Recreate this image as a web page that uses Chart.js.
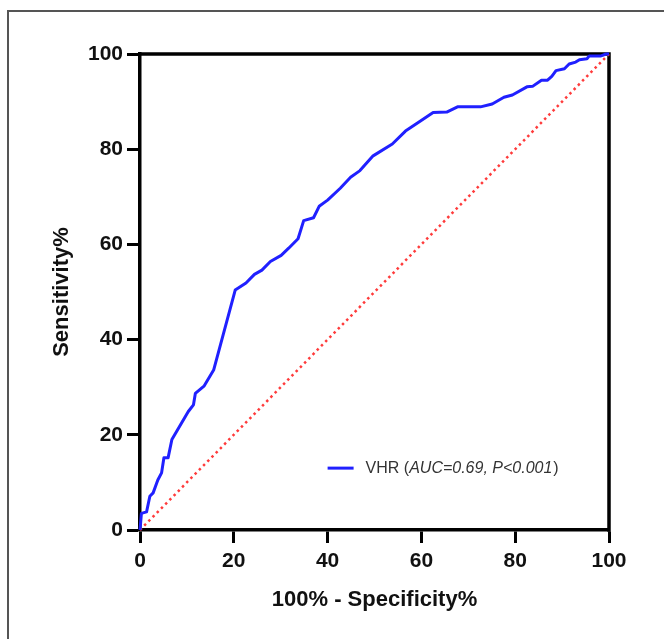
<!DOCTYPE html>
<html>
<head>
<meta charset="utf-8">
<script src="https://cdn.jsdelivr.net/npm/chart.js@4"></script>
<style>
  html, body { margin: 0; padding: 0; background: #fff; }
  #wrap { position: relative; width: 664px; height: 639px; overflow: hidden; }
  #frame { position: absolute; left: 7px; top: 10px; width: 700px; height: 700px;
           border-left: 2px solid #555; border-top: 2px solid #555; }
  #rocChart { position: absolute; left: 0; top: 0; }
</style>
</head>
<body>
<div id="wrap">
  <div id="frame"></div>
  <canvas id="rocChart" width="664" height="639"></canvas>
</div>
<script>
// ROC curve (100% - specificity, sensitivity)
let fprValues = [0, 0.3, 1.4, 2.1, 2.8, 3.8, 4.6, 5.1, 6.0, 6.8, 7.8, 10.3, 11.4, 11.8, 13.7, 15.7,
    20.3, 22.6, 24.4, 26, 27.8, 30.1, 31.7, 33.7, 34.9, 37, 38.2, 40, 42.7, 44.9, 46.9, 49.7,
    53.8, 56.6, 59.8, 62.5, 65.4, 67.7, 72.6, 75.1, 77.6, 79.4, 82.5, 83.7, 85.6, 86.9, 87.8,
    88.7, 90.5, 91.5, 92.9, 93.7, 95.3, 95.8, 98.3, 99.4, 100];
let tprValues = [0, 3.5, 3.8, 7.1, 7.8, 10.5, 12, 15.2, 15.2, 19, 20.7, 24.9, 26.3, 28.7, 30.3, 33.6,
    50.4, 51.9, 53.7, 54.6, 56.4, 57.7, 59.2, 61.2, 65, 65.6, 68, 69.3, 71.8, 74.1, 75.5, 78.6,
    81.1, 83.8, 85.9, 87.7, 87.8, 88.9, 88.9, 89.5, 90.9, 91.4, 93.1, 93.2, 94.5, 94.5, 95.3,
    96.5, 96.9, 97.9, 98.3, 98.8, 99, 99.6, 99.6, 100, 100];
let refX = [0, 100];
let refY = [0, 100];
let tickValues = [0, 20, 40, 60, 80, 100];

let fontFamily = "'Liberation Sans', Arial, Helvetica, sans-serif";

// box on top/right of the plot area
let boxPlugin = {
    id: 'plotBox',
    beforeDatasetsDraw(chart) {
        let a = chart.chartArea;
        let ctx = chart.ctx;
        ctx.save();
        ctx.strokeStyle = '#000';
        ctx.lineWidth = 3.5;
        ctx.lineCap = 'square';
        ctx.beginPath();
        ctx.moveTo(a.left, a.top);
        ctx.lineTo(a.right, a.top);
        ctx.lineTo(a.right, a.bottom);
        ctx.stroke();
        ctx.restore();
    }
};

// legend with italic stats
let legendPlugin = {
    id: 'rocLegend',
    afterDraw(chart) {
        let ctx = chart.ctx;
        let x0 = chart.scales.x.getPixelForValue(40);
        let y0 = chart.scales.y.getPixelForValue(13);
        ctx.save();
        ctx.strokeStyle = '#2020ff';
        ctx.lineWidth = 3;
        ctx.beginPath();
        ctx.moveTo(x0, y0);
        ctx.lineTo(x0 + 26, y0);
        ctx.stroke();
        ctx.fillStyle = '#333';
        ctx.textBaseline = 'middle';
        let parts = [
            ['VHR (', 'normal'],
            ['AUC=0.69, P<0.001', 'italic'],
            [')', 'normal']
        ];
        let x = x0 + 38;
        parts.forEach(function (p) {
            ctx.font = p[1] + ' 16px ' + fontFamily;
            ctx.fillText(p[0], x, y0);
            x += ctx.measureText(p[0]).width + (p[1] === 'italic' ? 1 : 0);
        });
        ctx.restore();
    }
};

let ctxRoc = document.getElementById('rocChart').getContext('2d');

let rocChart = new Chart(ctxRoc, {
    type: 'scatter',
    data: {
        datasets: [{
            label: 'VHR',
            data: fprValues.map((v, i) => ({x: v, y: tprValues[i]})),
            showLine: true,
            borderColor: '#2020ff',
            borderWidth: 3,
            borderJoinStyle: 'round',
            pointRadius: 0,
            clip: false
        }, {
            label: 'Reference',
            data: refX.map((v, i) => ({x: v, y: refY[i]})),
            showLine: true,
            borderColor: '#ff3b3b',
            borderWidth: 2.5,
            borderDash: [2.5, 3.5],
            pointRadius: 0,
            clip: false
        }]
    },
    options: {
        responsive: false,
        animation: false,
        layout: {
            padding: {left: 0, top: 54, right: 55, bottom: 0}
        },
        plugins: {
            legend: {display: false},
            tooltip: {enabled: false}
        },
        scales: {
            x: {
                type: 'linear',
                min: 0,
                max: 100,
                afterBuildTicks: function (scale) {
                    scale.ticks = tickValues.map(v => ({value: v}));
                },
                afterFit: function (scale) {
                    scale.height = 109;
                },
                border: {display: true, color: '#000', width: 3.5},
                grid: {
                    drawOnChartArea: false,
                    drawTicks: true,
                    tickLength: 13,
                    tickWidth: 3,
                    tickColor: '#000'
                },
                ticks: {
                    color: '#111',
                    padding: 6,
                    maxRotation: 0,
                    font: {family: fontFamily, size: 21, weight: 'bold'}
                },
                title: {
                    display: true,
                    text: '100% - Specificity%',
                    color: '#111',
                    padding: {top: 0, bottom: 26},
                    font: {family: fontFamily, size: 22, weight: 'bold'}
                }
            },
            y: {
                type: 'linear',
                min: 0,
                max: 100,
                afterBuildTicks: function (scale) {
                    scale.ticks = tickValues.map(v => ({value: v}));
                },
                afterFit: function (scale) {
                    scale.width = 140;
                },
                border: {display: true, color: '#000', width: 3.5},
                grid: {
                    drawOnChartArea: false,
                    drawTicks: true,
                    tickLength: 13,
                    tickWidth: 3,
                    tickColor: '#000'
                },
                ticks: {
                    color: '#111',
                    padding: 4,
                    font: {family: fontFamily, size: 21, weight: 'bold'}
                },
                title: {
                    display: true,
                    text: 'Sensitivity%',
                    color: '#111',
                    padding: {top: 49, bottom: 0},
                    font: {family: fontFamily, size: 22, weight: 'bold'}
                }
            }
        }
    },
    plugins: [boxPlugin, legendPlugin]
});
</script>
</body>
</html>
